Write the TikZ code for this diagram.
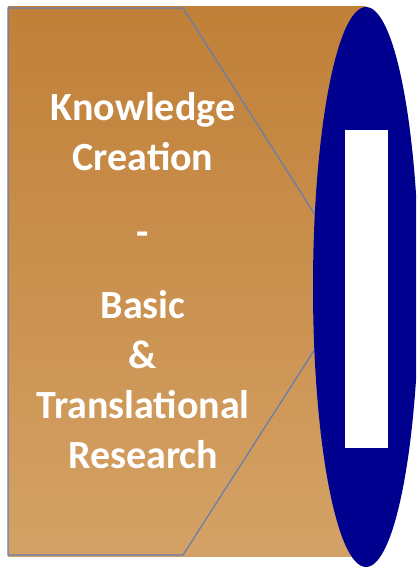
\documentclass[tikz,border=0pt]{standalone}
\usepackage{fontspec}
\usepackage{xcolor}
\newfontfamily\carlito{Carlito}
\usetikzlibrary{positioning}

\definecolor{barktop}{RGB}{192,128,56}
\definecolor{barkbottom}{RGB}{212,162,102}
\definecolor{rimblue}{RGB}{0,0,142}
\definecolor{edgegray}{RGB}{100,125,175}

\begin{document}
\begin{tikzpicture}[x=1pt,y=-1pt,
                    thick,main text/.style={text=white,align=center,font=\carlito\bfseries\fontsize{40}{50}\selectfont}]
      \useasboundingbox (0,0) rectangle (416,569);
      \clip (0,0) rectangle (416,569);

      % body of the barrel
      \shade[top color=barktop, bottom color=barkbottom] (8,7) rectangle (366,556);
      \draw[edgegray, line width=1.2pt] (358,282) -- (183,8) -- (8,8) -- (8,555) -- (183,555) -- cycle;

      % rim and slot
      \fill[rimblue] (366,287) ellipse [x radius=53, y radius=280];
      \fill[white] (345,130) rectangle (388,448);

      \node[main text] (label) at (143,281) {Knowledge\\Creation\\[25pt]-\\[23pt]Basic\\\&\\Translational\\Research};
    \end{tikzpicture}
\end{document}
